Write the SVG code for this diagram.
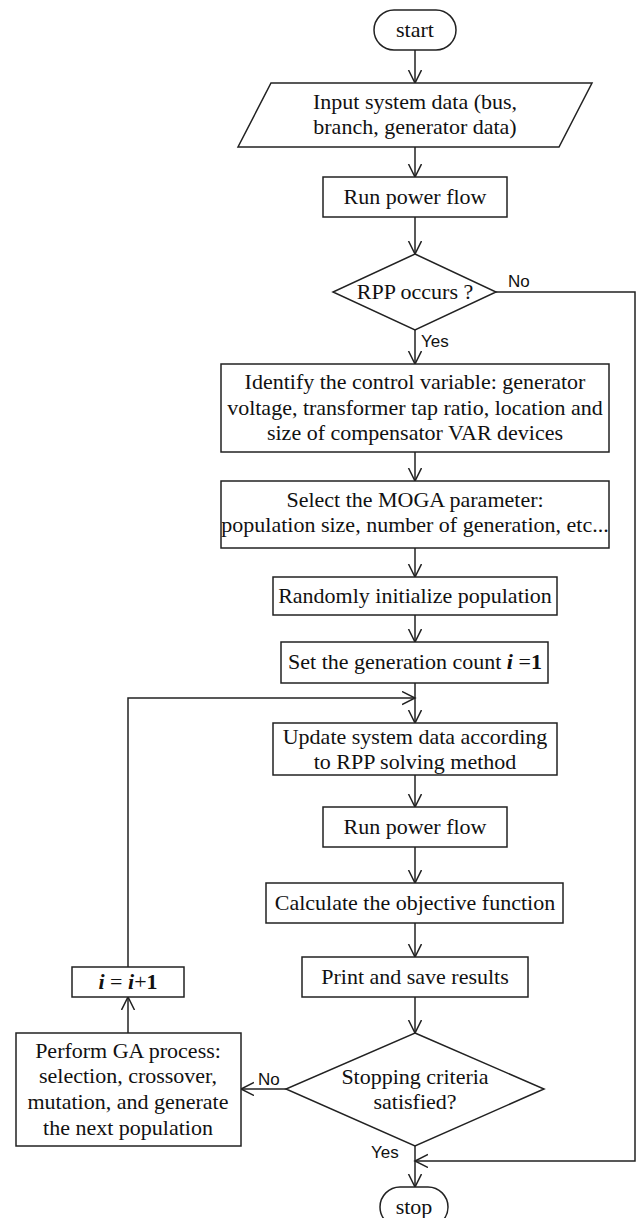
<svg xmlns="http://www.w3.org/2000/svg" width="636" height="1218" viewBox="0 0 636 1218">
<style>
.s{fill:#fff;stroke:#222;stroke-width:1.5}
.c{fill:none;stroke:#222;stroke-width:1.5}
.t{font-family:"Liberation Serif","Times New Roman",serif;font-size:22px;fill:#111;text-anchor:middle}
.l{font-family:"Liberation Sans",Arial,sans-serif;font-size:17px;fill:#111}
.bi{font-weight:bold;font-style:italic}
.b{font-weight:bold}
</style>
<defs>
<marker id="a" markerUnits="userSpaceOnUse" markerWidth="16" markerHeight="16" refX="13" refY="7" orient="auto">
<path d="M0,0.5 L13,7 L0,13.5" fill="none" stroke="#222" stroke-width="1.5"/>
</marker>
</defs>
<rect width="636" height="1218" fill="#fff"/>
<g id="connectors">
<path class="c" d="M415,50 V83" marker-end="url(#a)"/>
<path class="c" d="M415,147 V177" marker-end="url(#a)"/>
<path class="c" d="M415,217 V254" marker-end="url(#a)"/>
<path class="c" d="M415,330 V364" marker-end="url(#a)"/>
<path class="c" d="M415,452 V481" marker-end="url(#a)"/>
<path class="c" d="M415,548 V577" marker-end="url(#a)"/>
<path class="c" d="M415,615 V642" marker-end="url(#a)"/>
<path class="c" d="M415,683 V723" marker-end="url(#a)"/>
<path class="c" d="M128,967 V698 H415" marker-end="url(#a)"/>
<path class="c" d="M415,775 V807" marker-end="url(#a)"/>
<path class="c" d="M415,847 V883" marker-end="url(#a)"/>
<path class="c" d="M415,923 V957" marker-end="url(#a)"/>
<path class="c" d="M415,997 V1033" marker-end="url(#a)"/>
<path class="c" d="M286,1089 H241" marker-end="url(#a)"/>
<path class="c" d="M128,1033 V997" marker-end="url(#a)"/>
<path class="c" d="M415,1146 V1187" marker-end="url(#a)"/>
<path class="c" d="M496,292 H635 V1161 H415" marker-end="url(#a)"/>
<text class="l" x="508" y="287">No</text>
<text class="l" x="421" y="347">Yes</text>
<text class="l" x="258" y="1085">No</text>
<text class="l" x="371" y="1158">Yes</text>
</g>
<g id="start">
<rect class="s" x="374" y="10" width="82" height="40" rx="20"/>
<text class="t" x="415" y="37">start</text>
</g>
<g id="input">
<polygon class="s" points="271,83 592,83 559,147 238,147"/>
<text class="t" x="415" y="109">Input system data (bus,</text>
<text class="t" x="415" y="134">branch, generator data)</text>
</g>
<g id="runpf1">
<rect class="s" x="323" y="177" width="184" height="40"/>
<text class="t" x="415" y="204">Run power flow</text>
</g>
<g id="rpp">
<polygon class="s" points="415,254 496,292 415,330 333,292"/>
<text class="t" x="415" y="299">RPP occurs ?</text>
</g>
<g id="identify">
<rect class="s" x="221" y="364" width="388" height="88"/>
<text class="t" x="415" y="389">Identify the control variable: generator</text>
<text class="t" x="415" y="415">voltage, transformer tap ratio, location and</text>
<text class="t" x="415" y="440">size of compensator VAR devices</text>
</g>
<g id="select">
<rect class="s" x="221" y="481" width="388" height="67"/>
<text class="t" x="415" y="507">Select the MOGA parameter:</text>
<text class="t" x="415" y="532">population size, number of generation, etc...</text>
</g>
<g id="randomly">
<rect class="s" x="273" y="577" width="284" height="38"/>
<text class="t" x="415" y="603">Randomly initialize population</text>
</g>
<g id="setcount">
<rect class="s" x="281" y="642" width="267" height="41"/>
<text class="t" x="415" y="669">Set the generation count <tspan class="bi">i</tspan> =<tspan class="b">1</tspan></text>
</g>
<g id="update">
<rect class="s" x="273" y="723" width="284" height="52"/>
<text class="t" x="415" y="744">Update system data according</text>
<text class="t" x="415" y="769">to RPP solving method</text>
</g>
<g id="runpf2">
<rect class="s" x="323" y="807" width="184" height="40"/>
<text class="t" x="415" y="834">Run power flow</text>
</g>
<g id="calculate">
<rect class="s" x="266" y="883" width="297" height="40"/>
<text class="t" x="415" y="910">Calculate the objective function</text>
</g>
<g id="print">
<rect class="s" x="302" y="957" width="226" height="40"/>
<text class="t" x="415" y="984">Print and save results</text>
</g>
<g id="stopping">
<polygon class="s" points="415,1033 544,1089 415,1146 286,1089"/>
<text class="t" x="415" y="1084">Stopping criteria</text>
<text class="t" x="415" y="1109">satisfied?</text>
</g>
<g id="ga">
<rect class="s" x="16" y="1033" width="225" height="113"/>
<text class="t" x="128" y="1058">Perform GA process:</text>
<text class="t" x="128" y="1083">selection, crossover,</text>
<text class="t" x="128" y="1109">mutation, and generate</text>
<text class="t" x="128" y="1135">the next population</text>
</g>
<g id="increment">
<rect class="s" x="72" y="967" width="112" height="30"/>
<text class="t" x="128" y="989"><tspan class="bi">i</tspan> = <tspan class="bi">i</tspan>+<tspan class="b">1</tspan></text>
</g>
<g id="stop">
<rect class="s" x="380" y="1187" width="68" height="40" rx="20"/>
<text class="t" x="414" y="1214">stop</text>
</g>
</svg>
